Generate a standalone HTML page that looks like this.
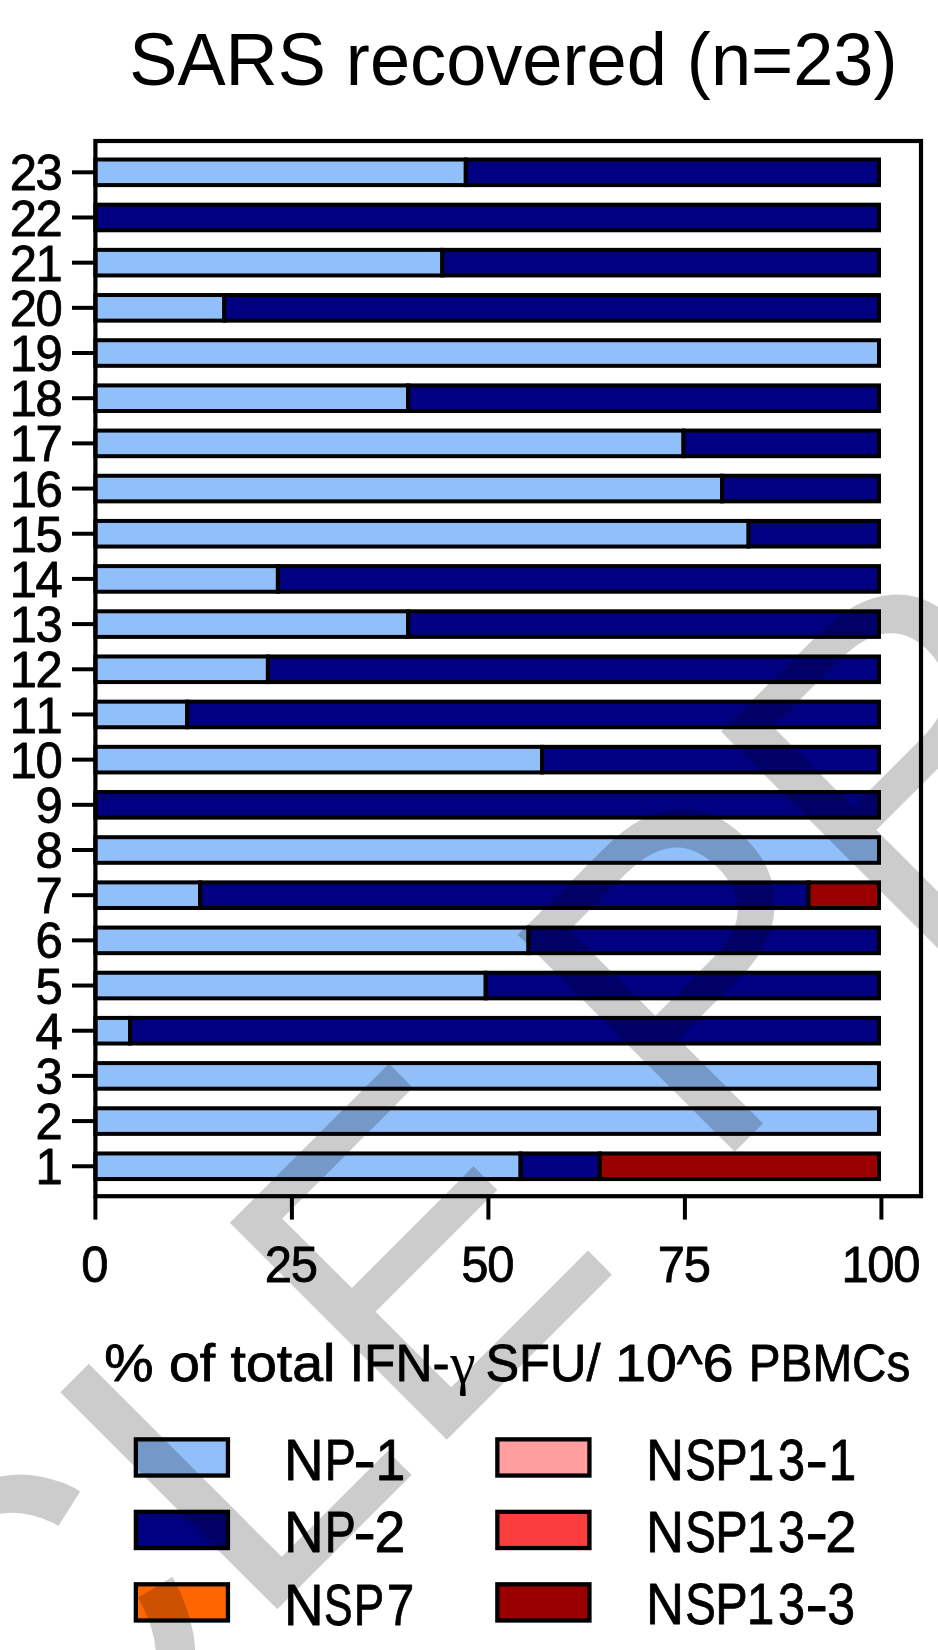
<!DOCTYPE html>
<html><head><meta charset="utf-8"><title>SARS recovered</title>
<style>html,body{margin:0;padding:0;background:#fff}body{width:938px;height:1650px;overflow:hidden}svg{display:block;filter:blur(.45px)}text{font-family:"Liberation Sans",sans-serif;fill:#000;font-kerning:none}.g{font-family:"Liberation Serif",serif}.c{stroke:#000;stroke-width:.8px;stroke-linejoin:round}</style></head><body>
<svg width="938" height="1650" viewBox="0 0 938 1650">
<rect x="0" y="0" width="938" height="1650" fill="#fff"/>
<g stroke="#000" stroke-width="4" stroke-linejoin="miter">
<rect x="95.4" y="159.50" width="370.4" height="25.6" fill="#91bff9"/>
<rect x="465.8" y="159.50" width="413.2" height="25.6" fill="#000080"/>
<rect x="95.4" y="204.68" width="783.6" height="25.6" fill="#000080"/>
<rect x="95.4" y="249.86" width="346.9" height="25.6" fill="#91bff9"/>
<rect x="442.3" y="249.86" width="436.7" height="25.6" fill="#000080"/>
<rect x="95.4" y="295.04" width="128.9" height="25.6" fill="#91bff9"/>
<rect x="224.3" y="295.04" width="654.7" height="25.6" fill="#000080"/>
<rect x="95.4" y="340.22" width="783.6" height="25.6" fill="#91bff9"/>
<rect x="95.4" y="385.40" width="312.8" height="25.6" fill="#91bff9"/>
<rect x="408.2" y="385.40" width="470.8" height="25.6" fill="#000080"/>
<rect x="95.4" y="430.58" width="588.1" height="25.6" fill="#91bff9"/>
<rect x="683.5" y="430.58" width="195.5" height="25.6" fill="#000080"/>
<rect x="95.4" y="475.76" width="626.6" height="25.6" fill="#91bff9"/>
<rect x="722.0" y="475.76" width="157.0" height="25.6" fill="#000080"/>
<rect x="95.4" y="520.94" width="653.2" height="25.6" fill="#91bff9"/>
<rect x="748.6" y="520.94" width="130.4" height="25.6" fill="#000080"/>
<rect x="95.4" y="566.12" width="182.5" height="25.6" fill="#91bff9"/>
<rect x="277.9" y="566.12" width="601.1" height="25.6" fill="#000080"/>
<rect x="95.4" y="611.30" width="312.8" height="25.6" fill="#91bff9"/>
<rect x="408.2" y="611.30" width="470.8" height="25.6" fill="#000080"/>
<rect x="95.4" y="656.48" width="172.5" height="25.6" fill="#91bff9"/>
<rect x="267.9" y="656.48" width="611.1" height="25.6" fill="#000080"/>
<rect x="95.4" y="701.66" width="91.8" height="25.6" fill="#91bff9"/>
<rect x="187.2" y="701.66" width="691.8" height="25.6" fill="#000080"/>
<rect x="95.4" y="746.84" width="446.6" height="25.6" fill="#91bff9"/>
<rect x="542.0" y="746.84" width="337.0" height="25.6" fill="#000080"/>
<rect x="95.4" y="792.02" width="783.6" height="25.6" fill="#000080"/>
<rect x="95.4" y="837.20" width="783.6" height="25.6" fill="#91bff9"/>
<rect x="95.4" y="882.38" width="104.8" height="25.6" fill="#91bff9"/>
<rect x="200.2" y="882.38" width="608.5" height="25.6" fill="#000080"/>
<rect x="808.7" y="882.38" width="70.3" height="25.6" fill="#9b0000"/>
<rect x="95.4" y="927.56" width="433.1" height="25.6" fill="#91bff9"/>
<rect x="528.5" y="927.56" width="350.5" height="25.6" fill="#000080"/>
<rect x="95.4" y="972.74" width="390.3" height="25.6" fill="#91bff9"/>
<rect x="485.7" y="972.74" width="393.3" height="25.6" fill="#000080"/>
<rect x="95.4" y="1017.92" width="34.6" height="25.6" fill="#91bff9"/>
<rect x="130.0" y="1017.92" width="749.0" height="25.6" fill="#000080"/>
<rect x="95.4" y="1063.10" width="783.6" height="25.6" fill="#91bff9"/>
<rect x="95.4" y="1108.28" width="783.6" height="25.6" fill="#91bff9"/>
<rect x="95.4" y="1153.46" width="425.2" height="25.6" fill="#91bff9"/>
<rect x="520.6" y="1153.46" width="79.2" height="25.6" fill="#000080"/>
<rect x="599.8" y="1153.46" width="279.2" height="25.6" fill="#9b0000"/>
</g>
<rect x="95.4" y="141" width="825.6" height="1055.2" fill="none" stroke="#000" stroke-width="4.2"/>
<g stroke="#000" stroke-width="4" fill="none">
<line x1="72" y1="172.30" x2="95" y2="172.30"/>
<line x1="72" y1="217.48" x2="95" y2="217.48"/>
<line x1="72" y1="262.66" x2="95" y2="262.66"/>
<line x1="72" y1="307.84" x2="95" y2="307.84"/>
<line x1="72" y1="353.02" x2="95" y2="353.02"/>
<line x1="72" y1="398.20" x2="95" y2="398.20"/>
<line x1="72" y1="443.38" x2="95" y2="443.38"/>
<line x1="72" y1="488.56" x2="95" y2="488.56"/>
<line x1="72" y1="533.74" x2="95" y2="533.74"/>
<line x1="72" y1="578.92" x2="95" y2="578.92"/>
<line x1="72" y1="624.10" x2="95" y2="624.10"/>
<line x1="72" y1="669.28" x2="95" y2="669.28"/>
<line x1="72" y1="714.46" x2="95" y2="714.46"/>
<line x1="72" y1="759.64" x2="95" y2="759.64"/>
<line x1="72" y1="804.82" x2="95" y2="804.82"/>
<line x1="72" y1="850.00" x2="95" y2="850.00"/>
<line x1="72" y1="895.18" x2="95" y2="895.18"/>
<line x1="72" y1="940.36" x2="95" y2="940.36"/>
<line x1="72" y1="985.54" x2="95" y2="985.54"/>
<line x1="72" y1="1030.72" x2="95" y2="1030.72"/>
<line x1="72" y1="1075.90" x2="95" y2="1075.90"/>
<line x1="72" y1="1121.08" x2="95" y2="1121.08"/>
<line x1="72" y1="1166.26" x2="95" y2="1166.26"/>
<line x1="95.4" y1="1196" x2="95.4" y2="1219.6"/>
<line x1="291.9" y1="1196" x2="291.9" y2="1219.6"/>
<line x1="488.4" y1="1196" x2="488.4" y2="1219.6"/>
<line x1="684.9" y1="1196" x2="684.9" y2="1219.6"/>
<line x1="881.4" y1="1196" x2="881.4" y2="1219.6"/>
</g>
<text class="c" transform="translate(61.5,190.40) scale(0.970,1)" font-size="50.5" letter-spacing="-1.4" text-anchor="end">23</text>
<text class="c" transform="translate(61.5,235.58) scale(0.970,1)" font-size="50.5" letter-spacing="-1.4" text-anchor="end">22</text>
<text class="c" transform="translate(61.5,280.76) scale(0.970,1)" font-size="50.5" letter-spacing="-1.4" text-anchor="end">21</text>
<text class="c" transform="translate(61.5,325.94) scale(0.970,1)" font-size="50.5" letter-spacing="-1.4" text-anchor="end">20</text>
<text class="c" transform="translate(61.5,371.12) scale(0.970,1)" font-size="50.5" letter-spacing="-1.4" text-anchor="end">19</text>
<text class="c" transform="translate(61.5,416.30) scale(0.970,1)" font-size="50.5" letter-spacing="-1.4" text-anchor="end">18</text>
<text class="c" transform="translate(61.5,461.48) scale(0.970,1)" font-size="50.5" letter-spacing="-1.4" text-anchor="end">17</text>
<text class="c" transform="translate(61.5,506.66) scale(0.970,1)" font-size="50.5" letter-spacing="-1.4" text-anchor="end">16</text>
<text class="c" transform="translate(61.5,551.84) scale(0.970,1)" font-size="50.5" letter-spacing="-1.4" text-anchor="end">15</text>
<text class="c" transform="translate(61.5,597.02) scale(0.970,1)" font-size="50.5" letter-spacing="-1.4" text-anchor="end">14</text>
<text class="c" transform="translate(61.5,642.20) scale(0.970,1)" font-size="50.5" letter-spacing="-1.4" text-anchor="end">13</text>
<text class="c" transform="translate(61.5,687.38) scale(0.970,1)" font-size="50.5" letter-spacing="-1.4" text-anchor="end">12</text>
<text class="c" transform="translate(61.5,732.56) scale(0.970,1)" font-size="50.5" letter-spacing="-1.4" text-anchor="end">11</text>
<text class="c" transform="translate(61.5,777.74) scale(0.970,1)" font-size="50.5" letter-spacing="-1.4" text-anchor="end">10</text>
<text class="c" transform="translate(61.5,822.92) scale(0.970,1)" font-size="50.5" letter-spacing="-1.4" text-anchor="end">9</text>
<text class="c" transform="translate(61.5,868.10) scale(0.970,1)" font-size="50.5" letter-spacing="-1.4" text-anchor="end">8</text>
<text class="c" transform="translate(61.5,913.28) scale(0.970,1)" font-size="50.5" letter-spacing="-1.4" text-anchor="end">7</text>
<text class="c" transform="translate(61.5,958.46) scale(0.970,1)" font-size="50.5" letter-spacing="-1.4" text-anchor="end">6</text>
<text class="c" transform="translate(61.5,1003.64) scale(0.970,1)" font-size="50.5" letter-spacing="-1.4" text-anchor="end">5</text>
<text class="c" transform="translate(61.5,1048.82) scale(0.970,1)" font-size="50.5" letter-spacing="-1.4" text-anchor="end">4</text>
<text class="c" transform="translate(61.5,1094.00) scale(0.970,1)" font-size="50.5" letter-spacing="-1.4" text-anchor="end">3</text>
<text class="c" transform="translate(61.5,1139.18) scale(0.970,1)" font-size="50.5" letter-spacing="-1.4" text-anchor="end">2</text>
<text class="c" transform="translate(61.5,1184.36) scale(0.970,1)" font-size="50.5" letter-spacing="-1.4" text-anchor="end">1</text>
<text class="c" transform="translate(94.2,1282) scale(0.970,1)" font-size="50.5" letter-spacing="-1.4" text-anchor="middle">0</text>
<text class="c" transform="translate(290.7,1282) scale(0.970,1)" font-size="50.5" letter-spacing="-1.4" text-anchor="middle">25</text>
<text class="c" transform="translate(487.2,1282) scale(0.970,1)" font-size="50.5" letter-spacing="-1.4" text-anchor="middle">50</text>
<text class="c" transform="translate(683.7,1282) scale(0.970,1)" font-size="50.5" letter-spacing="-1.4" text-anchor="middle">75</text>
<text class="c" transform="translate(880.2,1282) scale(0.970,1)" font-size="50.5" letter-spacing="-1.4" text-anchor="middle">100</text>
<text transform="translate(129.27,85.20) scale(1.0097,1.0400)" font-size="71.5" letter-spacing="0" xml:space="preserve">SARS recovered (n=23)</text>
<text class="c" transform="translate(104.22,1381.20) scale(1.0879,1.0000)" font-size="51" letter-spacing="0" xml:space="preserve">% of total</text>
<text class="c" transform="translate(349.77,1381.20) scale(1.0065,1.0000)" font-size="51" letter-spacing="0" xml:space="preserve">IFN-</text>
<text transform="translate(450.30,1382.57) scale(0.9560,1.0025)" font-size="60" letter-spacing="0" xml:space="preserve"><tspan class="g">γ</tspan></text>
<text class="c" transform="translate(485.43,1381.20) scale(0.9903,1.0000)" font-size="51" letter-spacing="0" xml:space="preserve">SFU/</text>
<text class="c" transform="translate(615.26,1381.20) scale(1.0845,1.0000)" font-size="51" letter-spacing="0" xml:space="preserve">10^6</text>
<text class="c" transform="translate(748.86,1381.20) scale(0.9341,1.0000)" font-size="51" letter-spacing="0" xml:space="preserve">PBMCs</text>
<text class="c" transform="translate(284.00,1480.00) scale(0.9594,1.0000)" font-size="57.2" letter-spacing="0" xml:space="preserve">N</text>
<text class="c" transform="translate(324.73,1480.00) scale(0.8133,1.0000)" font-size="57.2" letter-spacing="0" xml:space="preserve">P</text>
<text class="c" transform="translate(353.47,1480.00) scale(1.1769,1.0000)" font-size="57.2" letter-spacing="0" xml:space="preserve">-</text>
<text class="c" transform="translate(375.44,1480.00) scale(0.9400,1.0000)" font-size="57.2" letter-spacing="0" xml:space="preserve">1</text>
<text class="c" transform="translate(284.00,1552.10) scale(0.9594,1.0000)" font-size="57.2" letter-spacing="0" xml:space="preserve">N</text>
<text class="c" transform="translate(324.73,1552.10) scale(0.8133,1.0000)" font-size="57.2" letter-spacing="0" xml:space="preserve">P</text>
<text class="c" transform="translate(353.47,1552.10) scale(1.1769,1.0000)" font-size="57.2" letter-spacing="0" xml:space="preserve">-</text>
<text class="c" transform="translate(374.59,1552.10) scale(0.9692,1.0000)" font-size="57.2" letter-spacing="0" xml:space="preserve">2</text>
<text class="c" transform="translate(284.00,1624.60) scale(0.9594,1.0000)" font-size="57.2" letter-spacing="0" xml:space="preserve">N</text>
<text class="c" transform="translate(324.06,1624.60) scale(0.7469,1.0000)" font-size="57.2" letter-spacing="0" xml:space="preserve">S</text>
<text class="c" transform="translate(353.82,1624.60) scale(0.7967,1.0000)" font-size="57.2" letter-spacing="0" xml:space="preserve">P</text>
<text class="c" transform="translate(386.80,1624.60) scale(0.8654,1.0000)" font-size="57.2" letter-spacing="0" xml:space="preserve">7</text>
<text class="c" transform="translate(645.91,1479.70) scale(0.9187,1.0000)" font-size="57.2" letter-spacing="0" xml:space="preserve">N</text>
<text class="c" transform="translate(685.20,1479.70) scale(0.8000,1.0000)" font-size="57.2" letter-spacing="0" xml:space="preserve">S</text>
<text class="c" transform="translate(715.35,1479.70) scale(0.8500,1.0000)" font-size="57.2" letter-spacing="0" xml:space="preserve">P</text>
<text class="c" transform="translate(746.83,1479.70) scale(0.8680,1.0000)" font-size="57.2" letter-spacing="0" xml:space="preserve">1</text>
<text class="c" transform="translate(778.00,1479.70) scale(0.8519,1.0000)" font-size="57.2" letter-spacing="0" xml:space="preserve">3</text>
<text class="c" transform="translate(805.55,1479.70) scale(1.1846,1.0000)" font-size="57.2" letter-spacing="0" xml:space="preserve">-</text>
<text class="c" transform="translate(828.61,1479.70) scale(0.8720,1.0000)" font-size="57.2" letter-spacing="0" xml:space="preserve">1</text>
<text class="c" transform="translate(645.91,1551.90) scale(0.9187,1.0000)" font-size="57.2" letter-spacing="0" xml:space="preserve">N</text>
<text class="c" transform="translate(685.20,1551.90) scale(0.8000,1.0000)" font-size="57.2" letter-spacing="0" xml:space="preserve">S</text>
<text class="c" transform="translate(715.35,1551.90) scale(0.8500,1.0000)" font-size="57.2" letter-spacing="0" xml:space="preserve">P</text>
<text class="c" transform="translate(746.83,1551.90) scale(0.8680,1.0000)" font-size="57.2" letter-spacing="0" xml:space="preserve">1</text>
<text class="c" transform="translate(778.00,1551.90) scale(0.8519,1.0000)" font-size="57.2" letter-spacing="0" xml:space="preserve">3</text>
<text class="c" transform="translate(805.55,1551.90) scale(1.1846,1.0000)" font-size="57.2" letter-spacing="0" xml:space="preserve">-</text>
<text class="c" transform="translate(825.35,1551.90) scale(0.9846,1.0000)" font-size="57.2" letter-spacing="0" xml:space="preserve">2</text>
<text class="c" transform="translate(645.91,1624.30) scale(0.9187,1.0000)" font-size="57.2" letter-spacing="0" xml:space="preserve">N</text>
<text class="c" transform="translate(685.20,1624.30) scale(0.8000,1.0000)" font-size="57.2" letter-spacing="0" xml:space="preserve">S</text>
<text class="c" transform="translate(715.35,1624.30) scale(0.8500,1.0000)" font-size="57.2" letter-spacing="0" xml:space="preserve">P</text>
<text class="c" transform="translate(746.83,1624.30) scale(0.8680,1.0000)" font-size="57.2" letter-spacing="0" xml:space="preserve">1</text>
<text class="c" transform="translate(778.00,1624.30) scale(0.8519,1.0000)" font-size="57.2" letter-spacing="0" xml:space="preserve">3</text>
<text class="c" transform="translate(805.55,1624.30) scale(1.1846,1.0000)" font-size="57.2" letter-spacing="0" xml:space="preserve">-</text>
<text class="c" transform="translate(827.25,1624.30) scale(0.8741,1.0000)" font-size="57.2" letter-spacing="0" xml:space="preserve">3</text>
<rect x="135.85" y="1439.35" width="92.1" height="36.2" fill="#91bff9" stroke="#000" stroke-width="4.3"/>
<rect x="135.85" y="1511.85" width="92.1" height="36.2" fill="#000080" stroke="#000" stroke-width="4.3"/>
<rect x="135.85" y="1584.30" width="92.1" height="36.2" fill="#ff6600" stroke="#000" stroke-width="4.3"/>
<rect x="497.35" y="1439.35" width="92.1" height="36.2" fill="#ff9e9e" stroke="#000" stroke-width="4.3"/>
<rect x="497.35" y="1511.85" width="92.1" height="36.2" fill="#fa3e3e" stroke="#000" stroke-width="4.3"/>
<rect x="497.35" y="1584.30" width="92.1" height="36.2" fill="#9b0000" stroke="#000" stroke-width="4.3"/>
<g style="fill:#000;fill-opacity:0.2">
<text transform="translate(252.3,1634.3) rotate(-45) scale(1,1.035)" font-size="431.0" xml:space="preserve">LE PRE</text>
<polygon points="-12.0,1479.5 0.0,1476.5 10.7,1474.9 21.3,1474.4 32.0,1475.2 42.6,1477.1 53.3,1479.7 64.0,1482.9 74.6,1487.9 80.2,1491.4 58.4,1526.1 53.3,1523.1 42.6,1518.6 32.0,1515.2 21.3,1513.3 10.7,1512.8 0.0,1513.8 -12.0,1516.5"/>
<polygon points="172.6,1576.8 175.4,1582.4 179.7,1590.9 184.0,1601.6 188.2,1613.3 190.9,1622.9 193.6,1634.6 195.2,1650.0 195.8,1660.0 156.3,1660.0 155.7,1650.0 154.1,1638.9 151.4,1628.2 147.7,1617.6 142.9,1606.9 138.1,1597.5"/>
</g>
</svg></body></html>
